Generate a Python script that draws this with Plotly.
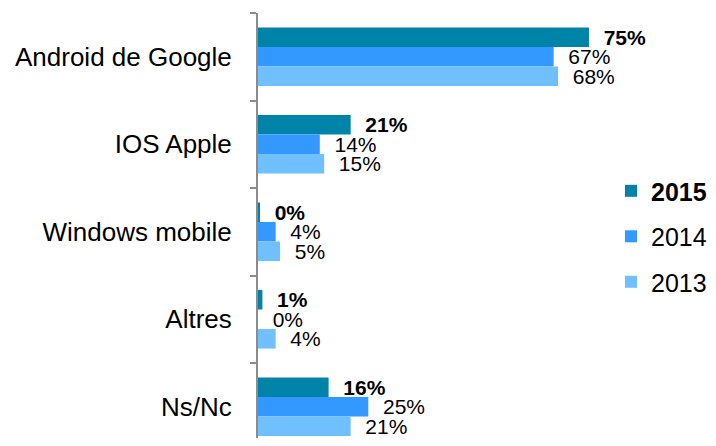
import plotly.graph_objects as go

categories = ["Android de Google", "IOS Apple", "Windows mobile", "Altres", "Ns/Nc"]
values_2015 = [75, 21, 0.3, 1, 16]
values_2014 = [67, 14, 4, 0, 25]
values_2013 = [68, 15, 5, 4, 21]
series_names = ["2015", "2014", "2013"]
colors = ["#0083A8", "#3399FF", "#70C0FF"]

positions = list(range(len(categories)))
boundaries = [p - 0.5 for p in positions]

FONT = "Liberation Sans, Arial, sans-serif"

fig = go.Figure()
for i, (name, vals, col) in enumerate(zip(series_names, [values_2015, values_2014, values_2013], colors)):
    bold = i == 0
    tmpl = "\u00a0\u00a0%{x:.0f}%"
    if bold:
        tmpl = "\u00a0\u00a0<b>%{x:.0f}%</b>"
    fig.add_trace(go.Bar(
        x=vals, y=positions, orientation="h",
        name=("<b>%s</b>" % name) if bold else name,
        legendgroup=name,
        marker=dict(color=col, line=dict(width=0)),
        texttemplate=tmpl, textposition="outside",
        constraintext="none", cliponaxis=False,
        textfont=dict(family=FONT, size=21, color="#000000"),
        hoverinfo="skip",
    ))

fig.update_layout(
    width=700, height=430,
    margin=dict(l=250, r=78, t=5, b=0, autoexpand=False),
    paper_bgcolor="white", plot_bgcolor="white",
    barmode="group", bargap=0.33, bargroupgap=0,
    font=dict(family=FONT, color="#000000"),
    xaxis=dict(range=[0, 84.3], visible=False, fixedrange=True, automargin=False),
    yaxis=dict(
        range=[4.357, -0.5], tickmode="array", tickvals=positions, ticktext=categories,
        ticks="", ticklabelstandoff=19, showgrid=False, zeroline=False, automargin=False,
        showline=True, linecolor="#8C8C8C", linewidth=2,
        tickfont=dict(family=FONT, size=26, color="#000000"),
        minor=dict(tickmode="array", tickvals=boundaries, ticks="outside",
                   ticklen=6, tickwidth=2, tickcolor="#8C8C8C", showgrid=False),
    ),
    showlegend=True,
    legend=dict(
        x=1.2205, xanchor="right", y=0.474, yanchor="middle",
        traceorder="grouped", tracegroupgap=10,
        font=dict(family=FONT, size=25, color="#000000"),
        bgcolor="rgba(0,0,0,0)", itemclick=False,
    ),
)

fig.write_html("out.html")
